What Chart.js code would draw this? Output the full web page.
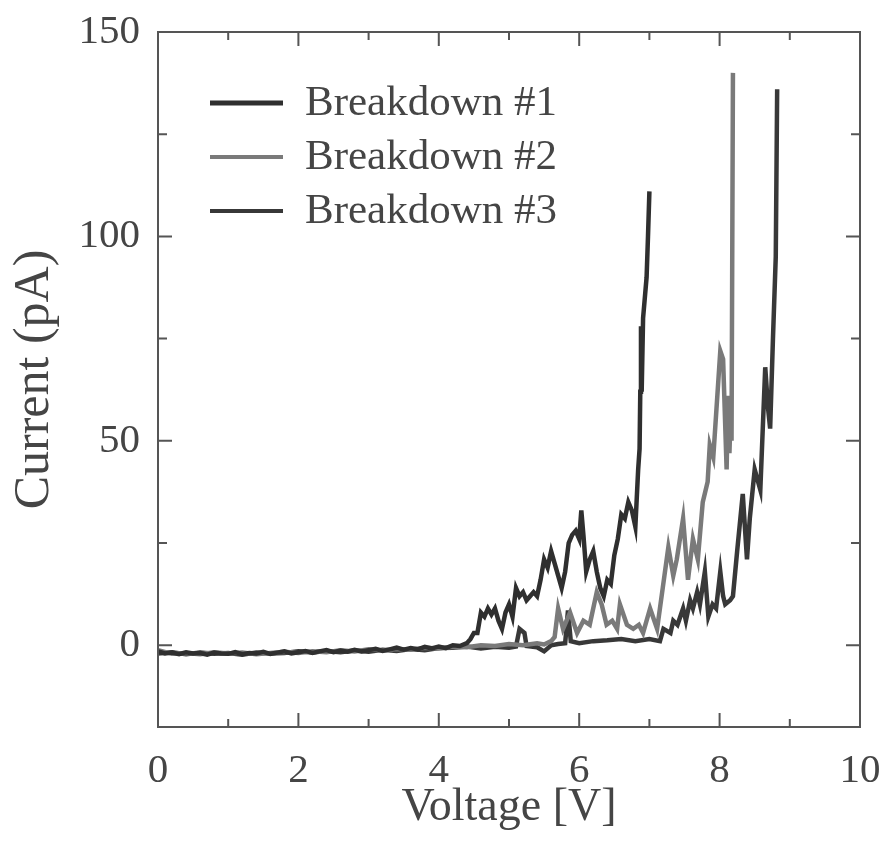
<!DOCTYPE html>
<html><head><meta charset="utf-8">
<script src="https://cdn.jsdelivr.net/npm/chart.js@4.4.1/dist/chart.umd.min.js"></script>
<style>html,body{margin:0;padding:0;background:#fff}#wrap{width:887px;height:850px}</style>
</head><body><div id="wrap"><canvas id="c" width="887" height="850"></canvas></div>
<script>
const seriesLabels = ['Breakdown #1', 'Breakdown #2', 'Breakdown #3'];

const voltage1 = [0,0.1,0.2,0.3,0.4,0.5,0.6,0.7,0.8,0.9,1.0,1.1,1.2,1.3,1.4,1.5,1.6,1.7,1.8,1.9,2.0,2.1,2.2,2.3,2.4,2.5,2.6,2.7,2.8,2.9,3.0,3.1,3.2,3.3,3.4,3.5,3.6,3.7,3.8,3.9,4.0,4.1,4.2,4.3,4.4,4.45,4.5,4.55,4.6,4.65,4.7,4.75,4.8,4.85,4.9,4.95,5.0,5.05,5.1,5.15,5.2,5.25,5.3,5.35,5.4,5.45,5.5,5.55,5.6,5.65,5.7,5.75,5.8,5.85,5.9,5.95,6.0,6.03,6.06,6.1,6.15,6.2,6.25,6.3,6.35,6.4,6.45,6.5,6.55,6.6,6.65,6.7,6.75,6.8,6.84,6.86,6.87,6.88,6.89,6.91,6.94,6.96,6.98,7.0];
const current1 = [-1.5,-2,-1.8,-2.2,-1.7,-2,-1.9,-2.3,-1.8,-2,-2.1,-1.7,-2.2,-1.9,-2,-1.6,-2.1,-1.8,-1.5,-2,-1.7,-1.4,-1.9,-1.5,-1.2,-1.7,-1.3,-1.6,-1.1,-1.5,-1.2,-0.9,-1.4,-1.0,-0.6,-1.1,-0.7,-1.0,-0.4,-0.8,-0.3,-0.7,0,-0.2,0.5,1.5,3,3,8,7,9,7.5,9,6,4,8,10,7,14,12,13,11,12,13,12,16,21,19,23,20,17,14,18,25,27,28,26,33,27,18,21,23,18,14,12,16,15,22,26,32,31,35,33,29,43,48,62,78,62,80,86,90,100,111];

const voltage2 = [0,0.2,0.4,0.6,0.8,1.0,1.2,1.4,1.6,1.8,2.0,2.2,2.4,2.6,2.8,3.0,3.2,3.4,3.6,3.8,4.0,4.2,4.4,4.6,4.8,5.0,5.2,5.4,5.5,5.6,5.65,5.7,5.77,5.87,5.97,6.06,6.15,6.25,6.32,6.39,6.47,6.54,6.58,6.68,6.77,6.85,6.91,7.01,7.11,7.19,7.27,7.34,7.39,7.48,7.55,7.62,7.69,7.76,7.83,7.86,7.91,8.01,8.05,8.1,8.12,8.14,8.16,8.17,8.19];
const current2 = [-1.2,-2.1,-1.9,-2.2,-1.7,-2.0,-1.8,-2.2,-1.9,-1.6,-1.9,-1.5,-1.7,-1.2,-1.5,-1.0,-1.3,-0.9,-1.1,-0.6,-0.8,-0.4,-0.5,0,-0.2,0.3,0,0.5,0.2,1,2,9,4,8,3,6,5,13,10,5,6,4,10,5,4,5,3,9,4,14,24,17,21,31,16,26,21,35,40,49,46,72,70,43,61,47,58,50,140];

const voltage3 = [0,0.2,0.4,0.6,0.8,1.0,1.2,1.4,1.6,1.8,2.0,2.2,2.4,2.6,2.8,3.0,3.2,3.4,3.6,3.8,4.0,4.2,4.4,4.6,4.8,5.0,5.1,5.15,5.22,5.25,5.4,5.5,5.6,5.7,5.8,5.84,5.88,6.0,6.2,6.4,6.6,6.8,7.0,7.15,7.2,7.3,7.34,7.4,7.48,7.52,7.58,7.62,7.68,7.72,7.79,7.84,7.9,7.95,8.01,8.05,8.08,8.15,8.19,8.25,8.33,8.39,8.43,8.5,8.58,8.65,8.69,8.72,8.76,8.8,8.82];
const current3 = [-2.0,-1.7,-2.2,-1.8,-2.1,-1.9,-2.3,-1.8,-2.0,-1.9,-1.5,-1.8,-1.4,-1.7,-1.3,-1.6,-1.1,-1.4,-0.9,-1.2,-0.7,-0.6,-0.3,-0.8,-0.4,-0.6,-0.3,4,3,-0.2,-0.5,-1.5,0,0.3,0.5,8.5,1,0.5,1,1.2,1.5,1,1.5,1,4,3,6,5,9,6,11,9,13,10,18,7,10,9,18,12,10,11,12,23,37,21,31,43,38,68,58,53,75,95,136];

const xTickValues = [0, 2, 4, 6, 8, 10];
const yTickValues = [0, 50, 100, 150];

const seriesColors = ['#2f2f2f', '#7a7a7a', '#383838'];
const seriesWidths = [4.5, 4.5, 4.5];
const legendWidths = [5, 4, 4];

function pts(xs, ys) { return xs.map((x, i) => ({x: x, y: ys[i]})); }

const FONT = "'Liberation Serif', 'Times New Roman', serif";
const TEXT = '#454545';
const AXIS = '#555555';

const framePlugin = {
  id: 'frameTicks',
  afterDatasetsDraw(chart) {
    const {ctx, chartArea: a, scales} = chart;
    const xs = scales.x, ys = scales.y;
    ctx.save();
    ctx.strokeStyle = AXIS;
    ctx.lineWidth = 2;
    ctx.strokeRect(a.left, a.top, a.right - a.left, a.bottom - a.top);
    ctx.beginPath();
    for (let v = 0; v <= 10; v++) {
      const px = xs.getPixelForValue(v);
      const len = v % 2 === 0 ? 14 : 8;
      ctx.moveTo(px, a.bottom); ctx.lineTo(px, a.bottom - len);
      ctx.moveTo(px, a.top); ctx.lineTo(px, a.top + len);
    }
    for (let v = 0; v <= 150; v += 25) {
      const py = ys.getPixelForValue(v);
      const len = v % 50 === 0 ? 14 : 9;
      ctx.moveTo(a.left, py); ctx.lineTo(a.left + len, py);
      ctx.moveTo(a.right, py); ctx.lineTo(a.right - len, py);
    }
    ctx.stroke();
    chart.data.datasets.forEach((ds, i) => {
      const ly = 103 + i * 54;
      ctx.beginPath();
      ctx.strokeStyle = ds.borderColor;
      ctx.lineWidth = legendWidths[i];
      ctx.moveTo(210, ly); ctx.lineTo(283, ly);
      ctx.stroke();
      ctx.fillStyle = TEXT;
      ctx.font = "43px " + FONT;
      ctx.textBaseline = 'alphabetic';
      ctx.textAlign = 'left';
      ctx.fillText(ds.label, 305, ly + 12);
    });
    ctx.restore();
  }
};

new Chart(document.getElementById('c'), {
  type: 'line',
  data: {
    datasets: [
      {label: seriesLabels[0], data: pts(voltage1, current1), borderColor: seriesColors[0], borderWidth: seriesWidths[0]},
      {label: seriesLabels[1], data: pts(voltage2, current2), borderColor: seriesColors[1], borderWidth: seriesWidths[1]},
      {label: seriesLabels[2], data: pts(voltage3, current3), borderColor: seriesColors[2], borderWidth: seriesWidths[2]}
    ].map(d => Object.assign(d, {pointRadius: 0, tension: 0, fill: false, borderJoinStyle: 'miter'}))
  },
  options: {
    responsive: false,
    animation: false,
    devicePixelRatio: 1,
    layout: {padding: {left: 0, right: 27, top: 32, bottom: 0}},
    plugins: {legend: {display: false}, tooltip: {enabled: false}},
    scales: {
      x: {
        type: 'linear', min: 0, max: 10,
        afterBuildTicks: s => { s.ticks = xTickValues.map(v => ({value: v})); },
        afterFit: s => { s.height = 123; s.paddingLeft = 0; s.paddingRight = 0; },
        grid: {display: false, drawTicks: false},
        border: {display: false},
        ticks: {padding: 20, color: TEXT, font: {family: FONT, size: 41}, maxRotation: 0, autoSkip: false},
        title: {display: true, text: 'Voltage [V]', color: TEXT, font: {family: FONT, size: 46, lineHeight: 1.2}, padding: {top: 0, bottom: 14}}
      },
      y: {
        type: 'linear', min: -20, max: 150,
        afterBuildTicks: s => { s.ticks = yTickValues.map(v => ({value: v})); },
        afterFit: s => { s.width = 158; s.paddingTop = 0; s.paddingBottom = 0; },
        grid: {display: false, drawTicks: false},
        border: {display: false},
        ticks: {padding: 18, color: TEXT, font: {family: FONT, size: 41}, autoSkip: false},
        title: {display: true, text: 'Current (pA)', color: TEXT, font: {family: FONT, size: 50, lineHeight: 1.2}, padding: {top: 5, bottom: 0}}
      }
    }
  },
  plugins: [framePlugin]
});
</script>
</body></html>
